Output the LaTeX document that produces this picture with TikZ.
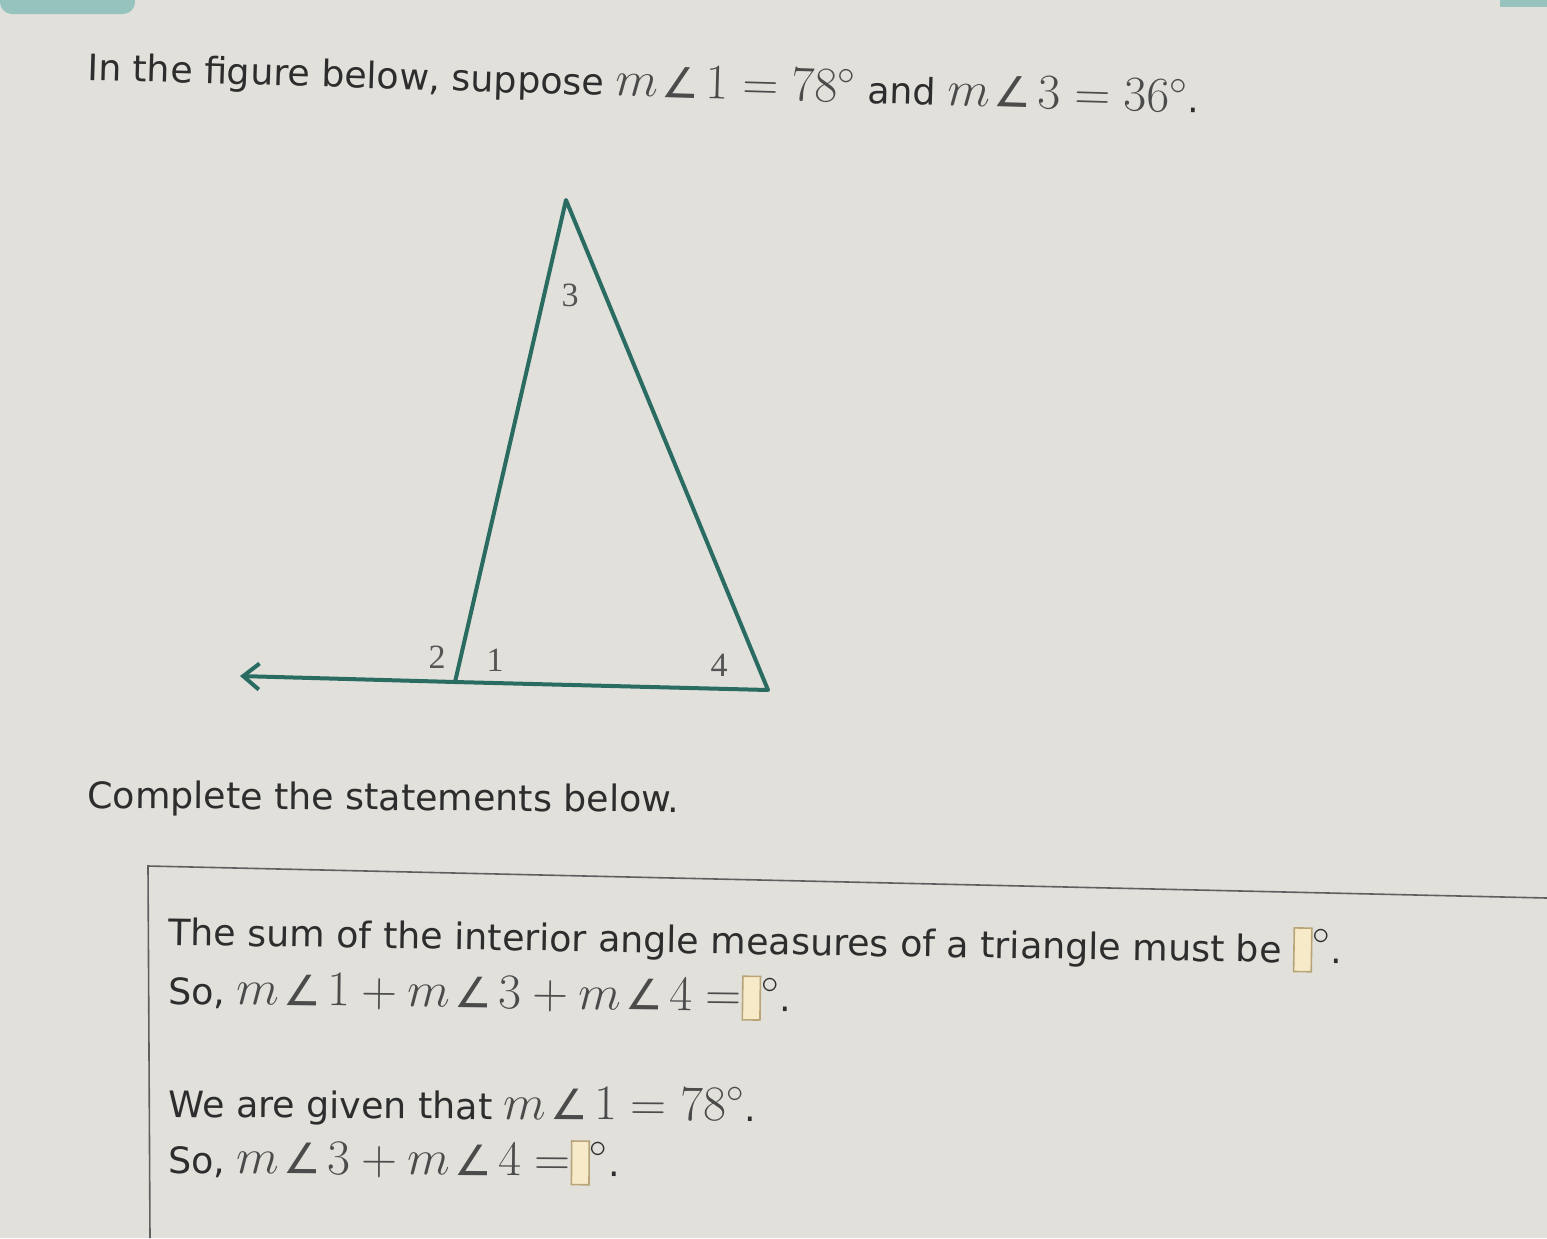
\documentclass[tikz,border=0pt]{standalone}
\usepackage{fontspec}
\setmainfont{DejaVu Sans}
\newfontfamily\labfont{Liberation Serif}
\newfontfamily\angfont{DejaVu Sans}
\usetikzlibrary{arrows.meta}
\definecolor{bg}{RGB}{225,224,219}
\definecolor{tealline}{RGB}{42,108,98}
\definecolor{tealtab}{RGB}{150,195,190}
\definecolor{txt}{RGB}{45,45,45}
\definecolor{mth}{RGB}{75,75,75}
\definecolor{lab}{RGB}{85,85,85}
\definecolor{ansfill}{RGB}{246,234,200}
\definecolor{ansdraw}{RGB}{185,165,120}
\definecolor{boxline}{RGB}{95,95,95}
\newcommand{\mfont}{\fontsize{24}{28}\selectfont}
\newcommand{\ansbox}{{\setlength\fboxsep{0pt}\setlength\fboxrule{0.8pt}\fcolorbox{ansdraw}{ansfill}{\rule[-4pt]{0pt}{21pt}\hspace{8pt}}}}
\newcommand{\angsym}{\mbox{\kern2pt{\angfont\fontsize{21}{24}\selectfont ∠}\kern3pt}}
\newcommand{\ang}[1]{m\angsym #1}
\tikzset{
  body/.style={anchor=base west, inner sep=0pt, text=txt, font=\fontsize{18.2}{22}\selectfont},
  lbl/.style={text=lab, font=\labfont\fontsize{17}{20}\selectfont, inner sep=0pt},
  side/.style={draw=tealline, line width=2pt, line join=round},
  frame/.style={draw=boxline, line width=0.8pt}
}
\begin{document}
\begin{tikzpicture}[x=0.5pt,y=-0.5pt]
\fill[bg] (0,0) rectangle (1547,1238);
\useasboundingbox (0,0) rectangle (1547,1238);
% teal tabs at the top edge
\fill[tealtab, rounded corners=6pt] (0,-20) rectangle (135,14);
\fill[tealtab] (1500,-5) rectangle (1547,7);

% title
\node[body, rotate=-1.7] (title) at (87,80)
  {In the figure below, suppose {\color{mth}\mfont$\ang{1}=78^\circ$} and {\color{mth}\mfont$\ang{3}=36^\circ$}.};

% figure
\coordinate (A) at (566,200);
\coordinate (B) at (455,682);
\coordinate (C) at (768,690);
\coordinate (D) at (240,676);
\draw[side] (B) -- (A) -- (C) -- cycle;
\draw[side, -{Straight Barb[length=8pt, width=13pt, line width=2pt]}] (B) -- (D);
\node[lbl] (l3) at (570,295) {3};
\node[lbl] (l2) at (437,657) {2};
\node[lbl] (l1) at (495,660) {1};
\node[lbl] (l4) at (719,665) {4};

\node[body, rotate=-0.4] (complete) at (87,808) {Complete the statements below.};

% answer frame
\coordinate (F1) at (148,866);
\coordinate (F2) at (1547,898);
\coordinate (F3) at (150,1238);
\draw[frame] (F2) -- (F1) -- (F3);

\node[body, rotate=-0.9] (s1) at (168,945)
  {The sum of the interior angle measures of a triangle must be \ansbox{\mfont$^\circ$}.};
\node[body, rotate=-0.7] (s2) at (168,1004)
  {So, {\color{mth}\mfont$\ang{1}+\ang{3}+\ang{4}=$}\ansbox{\mfont$^\circ$}.};
\node[body, rotate=-0.4] (s3) at (168,1117)
  {We are given that {\color{mth}\mfont$\ang{1}=78^\circ$}.};
\node[body, rotate=-0.4] (s4) at (168,1173)
  {So, {\color{mth}\mfont$\ang{3}+\ang{4}=$}\ansbox{\mfont$^\circ$}.};
\end{tikzpicture}
\end{document}
